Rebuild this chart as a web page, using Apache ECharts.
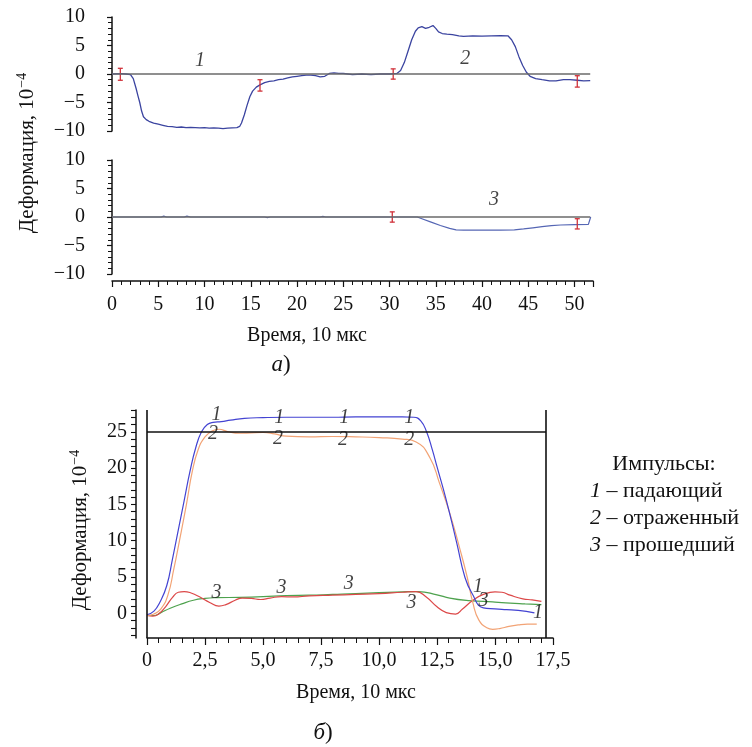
<!DOCTYPE html>
<html>
<head>
<meta charset="utf-8">
<title>Деформация</title>
<script src="https://cdn.jsdelivr.net/npm/echarts@6/dist/echarts.min.js"></script>
<style>
  html, body { margin: 0; padding: 0; background: #fff; }
  #chart { width: 752px; height: 747px; }
</style>
</head>
<body>
<div id="chart"></div>
<script>
// ---- Panel а, upper trace: incident + reflected pulse in the bar ----
const aTopT = [0, 1, 1.5, 2.0, 2.3, 2.6, 2.8, 3.0, 3.2, 3.4, 3.7, 4.0, 4.5, 5.0, 5.5, 6.0, 6.5, 7.0, 7.5, 8.0,
  8.5, 9.0, 9.5, 10.0, 10.5, 11.0, 11.5, 12.0, 12.5, 13.0, 13.5, 13.8, 14.0, 14.3, 14.6, 14.9, 15.2, 15.6, 16.0, 16.5,
  17.0, 17.5, 18.0, 18.5, 19.0, 19.5, 20.0, 20.5, 21.0, 21.5, 22.0, 22.5, 23.0, 23.5, 24.0, 24.5, 25.0, 25.5, 26, 27,
  28, 29, 30, 30.8, 31.2, 31.6, 32.0, 32.4, 32.8, 33.1, 33.5, 33.9, 34.3, 34.7, 35.0, 35.3, 35.7, 36.2, 36.8, 37.5,
  38.0, 39.0, 40.0, 41.0, 42.0, 42.8, 43.2, 43.6, 44.0, 44.4, 44.8, 45.2, 45.8, 46.5, 47.3, 48.0, 48.8, 49.5, 50.3, 51.0, 51.7];
const aTopV = [0, 0.05, 0, -0.1, -0.8, -2.5, -3.8, -5.0, -6.5, -7.5, -8.0, -8.3, -8.6, -8.8, -9.0, -9.2, -9.25, -9.35, -9.3, -9.4,
  -9.35, -9.4, -9.45, -9.4, -9.5, -9.45, -9.5, -9.6, -9.5, -9.45, -9.4, -9.2, -8.6, -7.2, -5.5, -4.0, -3.0, -2.3, -1.9, -1.5,
  -1.3, -1.2, -1.0, -0.9, -0.7, -0.5, -0.4, -0.3, -0.2, -0.2, -0.3, -0.5, -0.4, 0.1, 0.2, 0.1, 0.1, 0, -0.1, 0,
  -0.1, 0, 0, 0.1, 0.6, 2.0, 4.0, 6.0, 7.5, 8.1, 8.3, 8.0, 8.2, 8.5, 8.0, 7.4, 7.1, 7.0, 6.9, 6.7,
  6.6, 6.7, 6.65, 6.7, 6.75, 6.7, 6.0, 4.8, 3.0, 1.5, 0.3, -0.4, -0.8, -1.0, -1.2, -1.2, -1.0, -1.0, -1.1, -1.2, -1.15];

// ---- Panel а, lower trace: transmitted pulse ----
const aBotT = [0, 5.3, 5.6, 5.9, 7.8, 8.1, 8.5, 16.5, 16.8, 17.1, 22.5, 22.8, 23.1, 33.0, 33.5, 34.5, 35.5, 36.5, 37.2, 38,
  40, 42, 43.5, 44.5, 45.5, 46.5, 47.5, 48.5, 50, 51.5, 51.7, 51.75];
const aBotV = [0, 0, 0.15, 0, 0, 0.15, 0, 0, -0.1, 0, 0, 0.1, 0, 0, -0.3, -0.9, -1.5, -2.0, -2.25, -2.3,
  -2.3, -2.3, -2.25, -2.1, -1.9, -1.7, -1.5, -1.4, -1.35, -1.3, -1.3, 0];

// I-shaped time markers: [time, low, high]
const aTopMarkT = [0.9, 16.0, 30.4, 50.3];
const aTopMarkLo = [-1.1, -3.0, -0.9, -2.3];
const aTopMarkHi = [1.0, -1.0, 0.9, -0.3];
const aBotMarkT = [30.3, 50.3];
const aBotMarkLo = [-0.9, -2.1];
const aBotMarkHi = [0.9, -0.3];

// ---- Panel б: pulses shifted to a common origin ----
const bIncT = [0, 0.3, 0.55, 0.85, 1.1, 1.35, 1.6, 1.85, 2.1, 2.35, 2.6, 2.85, 3.2, 3.6, 4.2, 5.0, 6, 7, 8, 9,
  10, 11, 11.5, 11.8, 12.05, 12.3, 12.5, 12.9, 13.35, 13.7, 14.0, 14.5, 15.0, 15.5, 16.0, 16.7];
const bIncV = [-0.2, 0.3, 1.5, 3.8, 7.5, 11.5, 15.5, 19.5, 22.8, 25.0, 26.0, 26.3, 26.4, 26.6, 26.85, 26.95, 27, 27, 27.0, 27.05,
  27.05, 27.05, 27.0, 26.5, 25, 22.5, 20.2, 15.6, 9.7, 5.0, 2.8, 0.75, 0.6, 0.5, 0.4, 0.05];

const bRefT = [0, 0.3, 0.6, 0.9, 1.15, 1.4, 1.7, 1.95, 2.2, 2.5, 2.8, 3.1, 3.5, 4.0, 4.5, 5.0, 5.5, 6.0, 7.0, 8.0,
  9.0, 10.0, 11.0, 11.6, 12.2, 12.6, 13.05, 13.5, 13.8, 14.05, 14.3, 14.65, 14.9, 15.2, 15.6, 16.0, 16.4, 16.8];
const bRefV = [-0.3, -0.1, 0.6, 2.5, 6.0, 10.0, 15.0, 19.5, 22.5, 24.3, 25.1, 25.35, 25.0, 24.8, 24.85, 24.9, 24.7, 24.4, 24.3, 24.35,
  24.3, 24.2, 24.0, 23.6, 21.4, 18.0, 13.8, 8.7, 5.0, 1.4, -0.9, -2.0, -2.2, -2.1, -1.8, -1.6, -1.5, -1.5];

const bTrRedT = [0, 0.25, 0.5, 0.8, 1.1, 1.35, 1.6, 1.9, 2.3, 2.7, 3.1, 3.4, 3.8, 4.1, 4.5, 4.9, 5.3, 5.8, 6.3, 7.0,
  8.0, 9.0, 10.0, 11.0, 11.6, 12.05, 12.5, 12.9, 13.3, 13.6, 14.05, 14.5, 15.0, 15.3, 15.65, 16.2, 16.6, 17.0];
const bTrRedV = [-0.3, -0.4, -0.1, 0.9, 2.2, 2.9, 3.0, 2.8, 2.2, 1.5, 1.0, 1.2, 1.8, 2.1, 2.05, 1.9, 2.1, 2.3, 2.25, 2.4,
  2.5, 2.6, 2.7, 2.9, 3.0, 2.2, 0.9, 0.1, -0.1, 0.6, 1.8, 2.6, 2.95, 2.9, 2.5, 2.0, 1.85, 1.65];

const bTrGreenT = [0, 0.3, 0.6, 1.0, 1.5, 2.0, 2.5, 3.0, 4.0, 5.0, 6.0, 7.0, 8.0, 9.0, 10.0, 11.0, 11.7, 12.5, 13.05, 13.85,
  14.5, 15.0, 15.65, 16.3, 17.0];
const bTrGreenV = [-0.3, -0.3, 0.1, 0.7, 1.3, 1.8, 2.05, 2.15, 2.2, 2.3, 2.45, 2.5, 2.6, 2.7, 2.85, 2.95, 3.0, 2.55, 2.1, 1.75,
  1.65, 1.55, 1.4, 1.3, 1.2];

// Curve numbers written next to the traces: [time, strain, text]
const aTags = [[9.5, 2.4, '1'], [38.2, 2.6, '2']];
const aBotTags = [[41.3, 3.0, '3']];
const bTags = [
  [3.0, 27.4, '1'], [5.7, 27.0, '1'], [8.5, 27.0, '1'], [11.3, 27.0, '1'], [14.27, 3.6, '1'], [16.85, 0.1, '1'],
  [2.85, 24.7, '2'], [5.65, 24.1, '2'], [8.45, 23.9, '2'], [11.3, 23.9, '2'],
  [3.0, 2.8, '3'], [5.8, 3.5, '3'], [8.7, 4.1, '3'], [11.4, 1.5, '3'], [14.5, 1.7, '3']
];

// Axis tick values of panel б
const bYMajor = [0, 5, 10, 15, 20, 25];
const bYMinor = [-3, -2, -1, 0, 1, 2, 3, 4, 5, 6, 7, 8, 9, 10, 11, 12, 13, 14, 15, 16, 17, 18, 19, 20, 21, 22, 23, 24, 25, 26, 27, 28];

const zip = (xs, ys) => xs.map((x, i) => [x, ys[i]]);
const zip3 = (xs, lo, hi) => xs.map((x, i) => [x, lo[i], hi[i]]);

const SERIF = '"Liberation Serif", "DejaVu Serif", serif';
const INK = '#111';
const minus = v => (v < 0 ? '\u2212' + Math.abs(v) : String(v));

const labelStyle = { fontFamily: SERIF, fontSize: 20, color: INK };

function markerItem(params, api) {
  const top = api.coord([api.value(0), api.value(2)]);
  const bot = api.coord([api.value(0), api.value(1)]);
  const st = { stroke: '#d0323a', lineWidth: 1.3 };
  return {
    type: 'group',
    children: [
      { type: 'line', shape: { x1: top[0], y1: top[1], x2: bot[0], y2: bot[1] }, style: st },
      { type: 'line', shape: { x1: top[0] - 2.5, y1: top[1], x2: top[0] + 2.5, y2: top[1] }, style: st },
      { type: 'line', shape: { x1: bot[0] - 2.5, y1: bot[1], x2: bot[0] + 2.5, y2: bot[1] }, style: st }
    ]
  };
}

function tagSeries(items, xi, yi, size) {
  return {
    type: 'scatter', xAxisIndex: xi, yAxisIndex: yi, symbolSize: 0, silent: true, z: 5,
    data: items.map(t => ({ value: [t[0], t[1]], name: t[2] })),
    label: {
      show: true, position: 'inside', formatter: '{b}',
      fontFamily: SERIF, fontStyle: 'italic', fontSize: size, color: INK
    }
  };
}

function refLine(xi, yi, from, to, color, width) {
  return {
    type: 'line', xAxisIndex: xi, yAxisIndex: yi, data: [], silent: true, z: 1, clip: false,
    markLine: {
      symbol: 'none', silent: true, animation: false, label: { show: false },
      lineStyle: { color: color, width: width, type: 'solid' },
      data: [[{ coord: from }, { coord: to }]]
    }
  };
}

const aYAxis = gi => ({
  type: 'value', gridIndex: gi, position: 'left', min: -10, max: 10, interval: 5, offset: 20,
  axisLine: { show: true, lineStyle: { color: INK, width: 1.5 } },
  axisTick: { show: true, length: 5, lineStyle: { color: INK, width: 1.2 } },
  minorTick: { show: true, splitNumber: 5, length: 4, lineStyle: { color: INK, width: 1 } },
  splitLine: { show: false },
  axisLabel: Object.assign({ margin: 7, formatter: minus }, labelStyle)
});

function nameText(x, y) {
  return {
    type: 'text', x: x, y: y, rotation: Math.PI / 2,
    style: {
      text: '{m|Деформация, 10}{s|\u22124}', align: 'center', verticalAlign: 'middle',
      rich: {
        m: { fontFamily: SERIF, fontSize: 21, fill: INK },
        s: { fontFamily: SERIF, fontSize: 14, fill: INK, verticalAlign: 'top', padding: [0, 0, 10, 1] }
      }
    }
  };
}

function legendItem(y, num, words) {
  return {
    type: 'text', x: 590, y: y,
    style: {
      text: '{i|' + num + '}{n| – ' + words + '}', align: 'left', verticalAlign: 'middle',
      rich: {
        i: { fontFamily: SERIF, fontStyle: 'italic', fontSize: 22, fill: INK },
        n: { fontFamily: SERIF, fontSize: 22, fill: INK }
      }
    }
  };
}

function panelLetter(x, y, letter) {
  return {
    type: 'text', x: x, y: y,
    style: {
      text: '{i|' + letter + '}{n|)}', align: 'center', verticalAlign: 'middle',
      rich: {
        i: { fontFamily: SERIF, fontStyle: 'italic', fontSize: 23, fill: INK },
        n: { fontFamily: SERIF, fontSize: 23, fill: INK }
      }
    }
  };
}

const option = {
  backgroundColor: '#fff',
  animation: false,
  grid: [
    { left: 112, top: 17, width: 481, height: 114 },
    { left: 112, top: 160, width: 481, height: 114 },
    { left: 147, top: 410, width: 406, height: 228 }
  ],
  xAxis: [
    { type: 'value', gridIndex: 0, min: 0, max: 52, show: false },
    {
      type: 'value', gridIndex: 1, position: 'bottom', min: 0, max: 52, interval: 5, offset: 7,
      axisLine: { show: true, onZero: false, lineStyle: { color: INK, width: 1.5 } },
      axisTick: { show: true, length: 6, lineStyle: { color: INK, width: 1.2 } },
      minorTick: { show: true, splitNumber: 5, length: 4, lineStyle: { color: INK, width: 1 } },
      splitLine: { show: false },
      axisLabel: Object.assign({ margin: 14, showMaxLabel: false }, labelStyle)
    },
    {
      type: 'value', gridIndex: 2, position: 'bottom', min: 0, max: 17.5, interval: 2.5,
      axisLine: { show: true, onZero: false, lineStyle: { color: INK, width: 1.5 } },
      axisTick: { show: true, length: 7, lineStyle: { color: INK, width: 1.2 } },
      minorTick: { show: true, splitNumber: 5, length: 5, lineStyle: { color: INK, width: 1 } },
      splitLine: { show: false },
      axisLabel: Object.assign({
        margin: 13,
        formatter: v => (v === 0 ? '0' : v.toFixed(1).replace('.', ','))
      }, labelStyle)
    }
  ],
  yAxis: [
    aYAxis(0),
    aYAxis(1),
    {
      // panel б strain axis: every unit ticked, labels every 5
      type: 'value', gridIndex: 2, position: 'left', min: -3.4, max: 28, offset: 11,
      axisLine: { show: true, onZero: false, lineStyle: { color: INK, width: 1.5 } },
      axisTick: { show: true, length: 5, customValues: bYMinor, lineStyle: { color: INK, width: 1.1 } },
      splitLine: { show: false },
      axisLabel: Object.assign({ margin: 9, customValues: bYMajor }, labelStyle)
    }
  ],
  series: [
    // zero levels and frame of panel б
    refLine(0, 0, [0, 0], [51.7, 0], '#6a6a6a', 1.6),
    refLine(1, 1, [0, 0], [51.7, 0], '#6a6a6a', 1.6),
    refLine(2, 2, [-0.3, 0], [17.5, 0], '#777', 1.2),
    refLine(2, 2, [0, 25], [17.2, 25], INK, 1.6),
    refLine(2, 2, [0, -3.4], [0, 28], INK, 1.6),
    refLine(2, 2, [17.2, -3.4], [17.2, 28], INK, 1.6),

    // panel а traces
    {
      type: 'line', xAxisIndex: 0, yAxisIndex: 0, data: zip(aTopT, aTopV), showSymbol: false, z: 3,
      lineStyle: { color: '#3b44a0', width: 1.3 }
    },
    {
      type: 'line', xAxisIndex: 1, yAxisIndex: 1, data: zip(aBotT, aBotV), showSymbol: false, z: 3,
      lineStyle: { color: '#5566b4', width: 1.2 }
    },
    {
      type: 'custom', xAxisIndex: 0, yAxisIndex: 0, renderItem: markerItem, z: 4,
      data: zip3(aTopMarkT, aTopMarkLo, aTopMarkHi)
    },
    {
      type: 'custom', xAxisIndex: 1, yAxisIndex: 1, renderItem: markerItem, z: 4,
      data: zip3(aBotMarkT, aBotMarkLo, aBotMarkHi)
    },
    tagSeries(aTags, 0, 0, 20),
    tagSeries(aBotTags, 1, 1, 20),

    // panel б traces
    {
      type: 'line', xAxisIndex: 2, yAxisIndex: 2, data: zip(bTrGreenT, bTrGreenV), smooth: true, showSymbol: false, z: 3,
      lineStyle: { color: '#4ea24e', width: 1.2 }
    },
    {
      type: 'line', xAxisIndex: 2, yAxisIndex: 2, data: zip(bTrRedT, bTrRedV), smooth: true, showSymbol: false, z: 3,
      lineStyle: { color: '#dc4848', width: 1.2 }
    },
    {
      type: 'line', xAxisIndex: 2, yAxisIndex: 2, data: zip(bRefT, bRefV), smooth: true, showSymbol: false, z: 3,
      lineStyle: { color: '#f2a375', width: 1.2 }
    },
    {
      type: 'line', xAxisIndex: 2, yAxisIndex: 2, data: zip(bIncT, bIncV), smooth: true, showSymbol: false, z: 3,
      lineStyle: { color: '#4343d2', width: 1.2 }
    },
    tagSeries(bTags, 2, 2, 20)
  ],
  graphic: [
    nameText(27, 153),
    nameText(80, 530),
    {
      type: 'text', x: 307, y: 336,
      style: { text: 'Время, 10 мкс', font: '20px ' + SERIF, fill: INK, align: 'center', verticalAlign: 'middle' }
    },
    {
      type: 'text', x: 356, y: 693,
      style: { text: 'Время, 10 мкс', font: '20px ' + SERIF, fill: INK, align: 'center', verticalAlign: 'middle' }
    },
    panelLetter(281, 365, 'а'),
    panelLetter(323, 733, 'б'),
    {
      type: 'text', x: 664, y: 464,
      style: { text: 'Импульсы:', font: '22px ' + SERIF, fill: INK, align: 'center', verticalAlign: 'middle' }
    },
    legendItem(491, '1', 'падающий'),
    legendItem(518, '2', 'отраженный'),
    legendItem(545, '3', 'прошедший')
  ]
};

const chart = echarts.init(document.getElementById('chart'), null, { renderer: 'canvas' });
chart.setOption(option);
</script>
</body>
</html>
